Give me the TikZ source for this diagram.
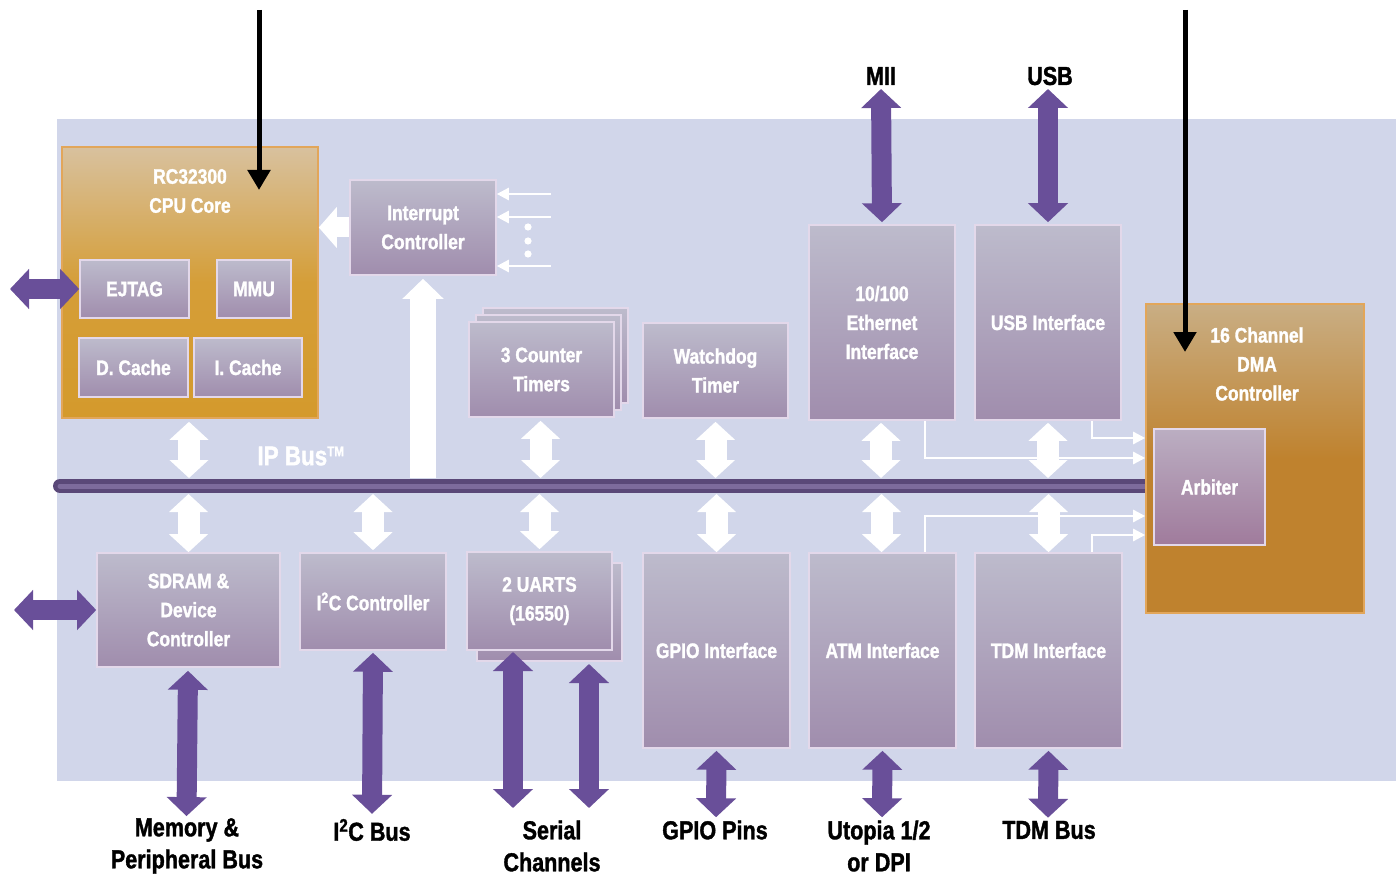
\documentclass[tikz,border=0pt]{standalone}
\usepackage{fontspec}
\newfontfamily\lab{Liberation Sans}[FakeStretch=0.83, BoldFeatures={FakeBold=1.4}]
\usetikzlibrary{arrows.meta,calc}
\definecolor{panel}{HTML}{D1D6EA}
\definecolor{boxtop}{HTML}{BDBBCC}
\definecolor{boxbot}{HTML}{A08DAD}
\definecolor{boxedge}{HTML}{E3D8EA}
\definecolor{cputop}{HTML}{D8C19E}
\definecolor{cpumid}{HTML}{D59E38}
\definecolor{cpubot}{HTML}{D49A2C}
\definecolor{dmatop}{HTML}{C9AE84}
\definecolor{dmabot}{HTML}{BF822E}
\definecolor{oraedge}{HTML}{E2A65A}
\definecolor{arbtop}{HTML}{BBAEC2}
\definecolor{arbbot}{HTML}{A07B9C}
\definecolor{purp}{HTML}{694F99}
\definecolor{busdark}{HTML}{5A4878}
\definecolor{buslight}{HTML}{7D6B9C}
\begin{document}
\begin{tikzpicture}[x=1pt,y=-1pt,
  box/.style={draw=boxedge, line width=1.6pt, top color=boxtop, bottom color=boxbot,
    inner sep=0pt, text=white, align=center,
    font={\lab\bfseries\fontsize{21pt}{29pt}\selectfont}},
  ora/.style={draw=oraedge, line width=1.6pt, inner sep=0pt},
  txt/.style={text=white, align=center, inner sep=0pt,
    font={\lab\bfseries\fontsize{21pt}{29pt}\selectfont}},
  lbl/.style={text=black, align=center, inner sep=0pt,
    font={\lab\bfseries\fontsize{26pt}{32pt}\selectfont}},
  pdbl/.style={draw=purp, line width=20pt,
    arrows={Triangle[width=39pt,length=19pt]-Triangle[width=39pt,length=19pt]}},
  wdbl/.style={draw=white, line width=22pt,
    arrows={Triangle[width=38pt,length=18pt]-Triangle[width=38pt,length=18pt]}},
  wsgl/.style={draw=white, line width=20pt,
    arrows={-Triangle[width=40pt,length=18pt]}},
  wline/.style={draw=white, line width=2.5pt,
    arrows={-Triangle[width=12pt,length=12pt]}},
  blkarr/.style={draw=black, line width=5pt,
    arrows={-Triangle[width=22pt,length=20pt]}},
]
\useasboundingbox (0,0) rectangle (1396,874);
\fill[panel] (57,119) rectangle (1396,781);

% helper coordinates
\coordinate (busL) at (60,486);
\coordinate (busR) at (1150,486);
\coordinate (busT) at (0,478);
\coordinate (busB) at (0,494);

% IP bus
\draw[busdark, line width=14pt, line cap=round] (busL) -- (busR);
\draw[buslight, line width=5pt, line cap=round] (busL) -- (busR);
\node[text=white, inner sep=0pt, font={\lab\bfseries\fontsize{27pt}{30pt}\selectfont}] (ipbus) at (301,456) {IP Bus\textsuperscript{\fontsize{14pt}{14pt}\selectfont TM}};

% CPU core
\node[ora, top color=cputop, bottom color=cpubot, middle color=cpumid, minimum width=256pt, minimum height=271pt] (cpu) at (190,282.5) {};
\node[txt] (cputxt) at (190,191) {RC32300\\CPU Core};
\node[box, minimum width=109pt, minimum height=58pt] (ejtag) at (134.5,289) {EJTAG};
\node[box, minimum width=74pt, minimum height=58pt] (mmu) at (254,289) {MMU};
\node[box, minimum width=109pt, minimum height=59pt] (dcache) at (133.5,367.5) {D. Cache};
\node[box, minimum width=108pt, minimum height=59pt] (icache) at (248,367.5) {I. Cache};

% Interrupt controller
\node[box, minimum width=146pt, minimum height=95pt] (ic) at (423,227.5) {Interrupt\\Controller};

% Counter timers (stack)
\node[box, minimum width=145pt, minimum height=95pt] (ct3) at (555.5,355.5) {};
\node[box, minimum width=145pt, minimum height=95pt] (ct2) at (548.5,362.5) {};
\node[box, minimum width=145pt, minimum height=95pt] (ct) at (541.5,369.5) {3 Counter\\Timers};

\node[box, minimum width=145pt, minimum height=95pt] (wd) at (715.5,370.5) {Watchdog\\Timer};
\node[box, minimum width=146pt, minimum height=195pt] (eth) at (882,322.5) {10/100\\Ethernet\\Interface};
\node[box, minimum width=146pt, minimum height=195pt] (usbif) at (1048,322.5) {USB Interface};

% DMA
\node[ora, top color=dmatop, bottom color=dmabot, middle color=dmabot, minimum width=218pt, minimum height=309pt] (dma) at (1255,458.5) {};
\node[txt] (dmatxt) at (1257,364) {16 Channel\\DMA\\Controller};
\node[box, top color=arbtop, bottom color=arbbot, minimum width=111pt, minimum height=116pt] (arb) at (1209.5,487) {Arbiter};

% lower row
\node[box, minimum width=183pt, minimum height=114pt] (sdram) at (188.5,610) {SDRAM \&\\Device\\Controller};
\node[box, minimum width=146pt, minimum height=97pt] (i2c) at (373,601.5) {I\textsuperscript{2}C Controller};
\node[box, minimum width=145pt, minimum height=98pt] (uart2) at (549.5,612) {};
\node[box, minimum width=145pt, minimum height=98pt] (uart) at (539.5,601) {2 UARTS\\(16550)};
\node[box, minimum width=147pt, minimum height=195pt] (gpio) at (716.5,650.5) {GPIO Interface};
\node[box, minimum width=147pt, minimum height=195pt] (atm) at (882.5,650.5) {ATM Interface};
\node[box, minimum width=147pt, minimum height=195pt] (tdm) at (1048.5,650.5) {TDM Interface};

% external labels
\node[lbl] (lmii) at (881,76) {MII};
\node[lbl] (lusb) at (1050,76) {USB};
\node[lbl] (lmem) at (187,846) {Memory \&\\Peripheral Bus};
\node[lbl] (li2c) at (372,830) {I\textsuperscript{2}C Bus};
\node[lbl] (lser) at (552,846) {Serial\\Channels};
\node[lbl] (lgpio) at (715,830) {GPIO Pins};
\node[lbl] (lutop) at (879,846) {Utopia 1/2\\or DPI};
\node[lbl] (ltdm) at (1049,830) {TDM Bus};

% white bus arrows (upper)
\draw[wdbl] ([xshift=-1pt,yshift=-3pt]cpu.south) -- ([xshift=-1pt]cpu.south |- busT);
\draw[wdbl] ([xshift=-1pt,yshift=-3pt]ct.south) -- ([xshift=-1pt]ct.south |- busT);
\draw[wdbl] ([yshift=-3pt]wd.south) -- (wd.south |- busT);
\draw[wdbl] ([xshift=-1pt,yshift=-2pt]eth.south) -- ([xshift=-1pt]eth.south |- busT);
\draw[wdbl] ([yshift=-2pt]usbif.south) -- (usbif.south |- busT);
% white bus arrows (lower)
\draw[wdbl] (sdram.north |- busB) -- (sdram.north);
\draw[wdbl] (i2c.north |- busB) -- ([yshift=2pt]i2c.north);
\draw[wdbl] (uart.north |- busB) -- ([yshift=2pt]uart.north);
\draw[wdbl] (gpio.north |- busB) -- (gpio.north);
\draw[wdbl] ([xshift=-1pt]atm.north |- busB) -- ([xshift=-1pt]atm.north);
\draw[wdbl] (tdm.north |- busB) -- (tdm.north);

% interrupt controller arrows
\draw[wsgl, line width=26pt, arrows={-Triangle[width=40pt,length=20pt]}] (ic.south |- busT) -- ([yshift=-3pt]ic.south);
\draw[wsgl] (ic.west) -- (ic.west -| cpu.east);
\coordinate (in1) at (551,194);
\coordinate (in2) at (551,217);
\coordinate (in3) at (551,266);
\draw[wline] (in1) -- (ic.east |- in1);
\draw[wline] (in2) -- (ic.east |- in2);
\draw[wline] (in3) -- (ic.east |- in3);
\fill[white] (528,227) circle (3.6) (528,241) circle (3.6) (528,254) circle (3.6);

% white lines to DMA
\coordinate (y438) at (0,438);
\coordinate (y458) at (0,458);
\coordinate (y516) at (0,516);
\coordinate (y535) at (0,535);
\draw[wline] ($(eth.south)+(43,0)$) |- (dma.west |- y458);
\draw[wline] ($(usbif.south)+(44,0)$) |- (dma.west |- y438);
\draw[wline] ($(atm.north)+(42.5,0)$) |- (dma.west |- y516);
\draw[wline] ($(tdm.north)+(43.5,0)$) |- (dma.west |- y535);

% purple external arrows
\coordinate (ejL) at (10,289);
\coordinate (sdL) at (14,610);
\coordinate (miiT) at (881,89);
\coordinate (usbT) at (1048,89);
\draw[pdbl] (ejL) -- (ejtag.west);
\draw[pdbl] (sdL) -- (sdram.west);
\draw[pdbl] ([yshift=2pt]eth.north) -- (miiT);
\draw[pdbl] ([yshift=2pt]usbif.north) -- (usbT);
\draw[pdbl] ([xshift=-0.5pt,yshift=-3pt]sdram.south) -- ([xshift=-0.5pt,yshift=2pt]lmem.north);
\draw[pdbl] ([yshift=-2pt]i2c.south) -- ([yshift=5pt]li2c.north);
\coordinate (u1T) at (513,652);
\coordinate (u1B) at (513,808);
\coordinate (u2T) at (589,664);
\coordinate (u2B) at (589,808);
\draw[pdbl] (u1T) -- (u1B);
\draw[pdbl] (u2T) -- (u2B);
\draw[pdbl] ([yshift=-2pt]gpio.south) -- ([xshift=1pt,yshift=3pt]lgpio.north);
\draw[pdbl] ([yshift=-2pt]atm.south) -- ([xshift=3pt,yshift=3pt]lutop.north);
\draw[pdbl] ([yshift=-2pt]tdm.south) -- ([xshift=-1pt,yshift=3pt]ltdm.north);

% black arrows
\coordinate (bkL0) at (259,10);
\coordinate (bkL1) at (259,190);
\coordinate (bkR0) at (1185,10);
\coordinate (bkR1) at (1185,352);
\draw[blkarr] (bkL0) -- (bkL1);
\draw[blkarr] (bkR0) -- (bkR1);
\end{tikzpicture}
\end{document}
